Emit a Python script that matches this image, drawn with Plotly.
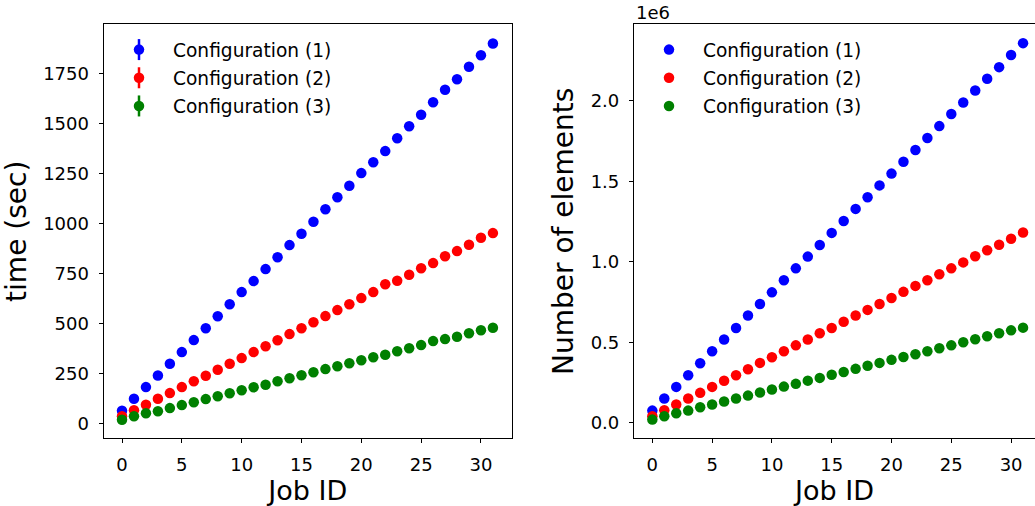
import plotly.graph_objects as go

job_id = list(range(32))
series_names = ["Configuration (1)", "Configuration (2)", "Configuration (3)"]
colors = ["#0000ff", "#ff0000", "#008000"]

time_cfg1 = [65, 125, 183, 241, 300, 358, 418, 477, 537, 597, 658, 713, 773, 832, 893, 950,
             1010, 1072, 1132, 1190, 1253, 1307, 1363, 1427, 1487, 1545, 1607, 1670, 1722, 1785, 1842, 1901]
time_cfg2 = [37, 67, 95, 125, 153, 183, 212, 240, 270, 300, 328, 358, 387, 417, 448, 477,
             507, 538, 568, 597, 628, 658, 697, 715, 745, 777, 803, 837, 863, 895, 930, 953]
time_cfg3 = [20, 37, 52, 62, 78, 93, 107, 123, 137, 152, 167, 182, 195, 212, 227, 242,
             257, 273, 287, 302, 317, 332, 345, 362, 377, 393, 413, 423, 435, 452, 467, 480]

elem_cfg1 = [76000, 151000, 223000, 295000, 370000, 444000, 517000, 589000, 666000, 738000, 810000,
             885000, 959000, 1032000, 1104000, 1179000, 1253000, 1328000, 1400000, 1474000, 1547000,
             1621000, 1694000, 1768000, 1842000, 1917000, 1989000, 2063000, 2136000, 2208000, 2283000, 2357000]
elem_cfg2 = [41000, 78000, 114000, 151000, 186000, 223000, 261000, 295000, 333000, 372000, 407000,
             444000, 481000, 517000, 556000, 589000, 628000, 666000, 701000, 738000, 775000,
             813000, 850000, 885000, 922000, 959000, 996000, 1034000, 1071000, 1106000, 1143000, 1181000]
elem_cfg3 = [20000, 41000, 60000, 76000, 97000, 114000, 132000, 151000, 169000, 188000, 207000,
             225000, 242000, 262000, 279000, 298000, 316000, 335000, 354000, 372000, 391000,
             409000, 426000, 444000, 463000, 481000, 500000, 519000, 537000, 556000, 574000, 591000]

left_yticks = [0, 250, 500, 750, 1000, 1250, 1500, 1750]
right_yticks = [0, 500000, 1000000, 1500000, 2000000]
right_yticklabels = ["0.0", "0.5", "1.0", "1.5", "2.0"]
xticks = [0, 5, 10, 15, 20, 25, 30]

FONT = "DejaVu Sans"
TICK_SIZE = 18
LEGEND_SIZE = 18.6
YTITLE_SIZE = 28
XTITLE_SIZE = 27

fig = go.Figure()

for i, (name, col, ys) in enumerate(zip(series_names, colors, [time_cfg1, time_cfg2, time_cfg3])):
    fig.add_trace(go.Scatter(x=job_id, y=ys, mode="markers", name=name, legendgroup=f"a{i}",
                             marker=dict(color=col, size=10.5),
                             xaxis="x", yaxis="y", legend="legend"))
# error-bar glyphs for the left legend (overlay)
for i, (name, col) in enumerate(zip(series_names, colors)):
    fig.add_trace(go.Scatter(x=[None], y=[None], mode="markers", name=name, legendgroup=f"b{i}",
                             marker=dict(color=col, symbol="line-ns", size=15,
                                         line=dict(color=col, width=2.5)),
                             xaxis="x", yaxis="y", legend="legend3"))
for i, (name, col, ys) in enumerate(zip(series_names, colors, [elem_cfg1, elem_cfg2, elem_cfg3])):
    fig.add_trace(go.Scatter(x=job_id, y=ys, mode="markers", name=name, legendgroup=f"c{i}",
                             marker=dict(color=col, size=10.5),
                             xaxis="x2", yaxis="y2", legend="legend2"))

axis_common = dict(showline=True, linecolor="black", linewidth=1.3, ticks="outside",
                   ticklen=4, tickwidth=1.2, tickcolor="black", showgrid=False, zeroline=False,
                   tickfont=dict(family=FONT, size=TICK_SIZE, color="black"), ticklabelstandoff=6)

legend_common = dict(xanchor="left", yanchor="top", bgcolor="rgba(0,0,0,0)",
                     itemwidth=58, tracegroupgap=1, y=1 - 31 / 506)

ydom = [0.1338, 0.952]
fig.update_layout(
    width=1035, height=506, margin=dict(l=0, r=0, t=0, b=0),
    paper_bgcolor="white", plot_bgcolor="white",
    font=dict(family=FONT, size=18, color="black"),
    xaxis=dict(domain=[0.1002, 0.4944], range=[-1.53, 32.57], tickvals=xticks, mirror=True,
               anchor="y", title=dict(text="Job ID", font=dict(size=XTITLE_SIZE), standoff=6), **axis_common),
    yaxis=dict(domain=ydom, range=[-73, 1997], tickvals=left_yticks, mirror=True, anchor="x",
               title=dict(text="time (sec)", font=dict(size=YTITLE_SIZE), standoff=8), **axis_common),
    xaxis2=dict(domain=[0.6126, 1.0], range=[-1.53, 32.0], tickvals=xticks, mirror=True,
                anchor="y2", title=dict(text="Job ID", font=dict(size=XTITLE_SIZE), standoff=6), **axis_common),
    yaxis2=dict(domain=ydom, range=[-96000, 2474000], tickvals=right_yticks,
                ticktext=right_yticklabels, anchor="x2",
                title=dict(text="Number of elements", font=dict(size=YTITLE_SIZE), standoff=8), **axis_common),
    legend=dict(x=105 / 1035, font=dict(family=FONT, size=LEGEND_SIZE, color="black"), **legend_common),
    legend3=dict(x=105 / 1035, font=dict(family=FONT, size=LEGEND_SIZE, color="rgba(0,0,0,0)"), **legend_common),
    legend2=dict(x=635 / 1035, font=dict(family=FONT, size=LEGEND_SIZE, color="black"), **legend_common),
    annotations=[dict(text="1e6", xref="paper", yref="paper", x=634 / 1035, y=1 - 13 / 506,
                      xanchor="left", yanchor="middle", showarrow=False,
                      font=dict(family=FONT, size=TICK_SIZE, color="black"))],
)

fig.write_html("out.html")
